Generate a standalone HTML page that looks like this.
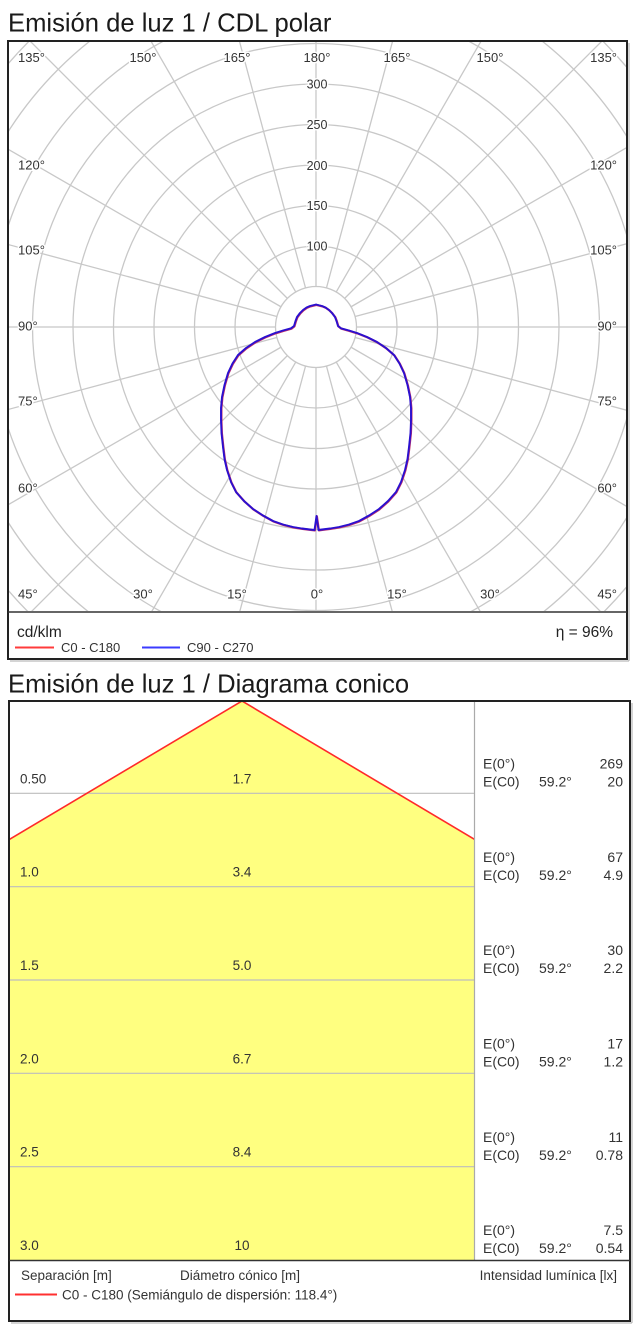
<!DOCTYPE html>
<html>
<head>
<meta charset="utf-8">
<style>
  html,body{margin:0;padding:0;background:#fff;}
  body{width:640px;height:1333px;overflow:hidden;}
  svg{display:block;}
  text{font-family:"Liberation Sans", Arial, sans-serif;}
</style>
</head>
<body>
<svg width="640" height="1333" viewBox="0 0 640 1333" xmlns="http://www.w3.org/2000/svg">
  <defs>
    <clipPath id="pc"><rect x="9" y="42" width="617" height="569"/></clipPath>
    <clipPath id="cc"><rect x="10" y="702" width="464" height="558"/></clipPath>
  </defs>

  <!-- ============ TITLE 1 ============ -->
  <text x="8" y="31.5" font-size="25.6" fill="#1a1a1a">Emisión de luz 1 / CDL polar</text>

  <!-- ============ POLAR GRID ============ -->
  <g clip-path="url(#pc)">
    <g transform="translate(316,327)" stroke="#c8c8c8" stroke-width="1.3" fill="none">
      <circle r="40.5"/><circle r="81"/><circle r="121.5"/><circle r="162"/>
      <circle r="202.5"/><circle r="243"/><circle r="283.5"/><circle r="324"/>
      <circle r="364.5"/><circle r="405"/><circle r="445.5"/>
      <line x1="0" y1="40.5" x2="0" y2="700" transform="rotate(0)"/>
      <line x1="0" y1="40.5" x2="0" y2="700" transform="rotate(15)"/>
      <line x1="0" y1="40.5" x2="0" y2="700" transform="rotate(30)"/>
      <line x1="0" y1="40.5" x2="0" y2="700" transform="rotate(45)"/>
      <line x1="0" y1="40.5" x2="0" y2="700" transform="rotate(60)"/>
      <line x1="0" y1="40.5" x2="0" y2="700" transform="rotate(75)"/>
      <line x1="0" y1="40.5" x2="0" y2="700" transform="rotate(90)"/>
      <line x1="0" y1="40.5" x2="0" y2="700" transform="rotate(105)"/>
      <line x1="0" y1="40.5" x2="0" y2="700" transform="rotate(120)"/>
      <line x1="0" y1="40.5" x2="0" y2="700" transform="rotate(135)"/>
      <line x1="0" y1="40.5" x2="0" y2="700" transform="rotate(150)"/>
      <line x1="0" y1="40.5" x2="0" y2="700" transform="rotate(165)"/>
      <line x1="0" y1="40.5" x2="0" y2="700" transform="rotate(180)"/>
      <line x1="0" y1="40.5" x2="0" y2="700" transform="rotate(195)"/>
      <line x1="0" y1="40.5" x2="0" y2="700" transform="rotate(210)"/>
      <line x1="0" y1="40.5" x2="0" y2="700" transform="rotate(225)"/>
      <line x1="0" y1="40.5" x2="0" y2="700" transform="rotate(240)"/>
      <line x1="0" y1="40.5" x2="0" y2="700" transform="rotate(255)"/>
      <line x1="0" y1="40.5" x2="0" y2="700" transform="rotate(270)"/>
      <line x1="0" y1="40.5" x2="0" y2="700" transform="rotate(285)"/>
      <line x1="0" y1="40.5" x2="0" y2="700" transform="rotate(300)"/>
      <line x1="0" y1="40.5" x2="0" y2="700" transform="rotate(315)"/>
      <line x1="0" y1="40.5" x2="0" y2="700" transform="rotate(330)"/>
      <line x1="0" y1="40.5" x2="0" y2="700" transform="rotate(345)"/>
    </g>

    <!-- ring labels -->
    <g font-size="12.5" fill="#333" text-anchor="middle" stroke="#fff" stroke-width="3" paint-order="stroke">
      <text x="317" y="250.5">100</text>
      <text x="317" y="210">150</text>
      <text x="317" y="170">200</text>
      <text x="317" y="129">250</text>
      <text x="317" y="88.5">300</text>
    </g>

    <!-- curves -->
    <path d="M318.5,530 L322,529.5 L330,528.5 L339,527 L349,524.5 L359,521 L369,515.5 L379,509 L388,501 L396,492 L401,482 L405,470 L407.5,459 L409,447 L410.5,433 L411,420 L411,408 L410,397 L407.5,385 L404,373 L399.5,363.5 L394,355 L386,348 L377,342 L367,337 L357,333 L349,330.5 L341,328.3 L338,326 L336.5,321 L335,317 L332,313 L329,310 L325.5,307.5 L322,306 L318,305 L316,304.5 L314,305 L310,306 L306.5,307.5 L303,310 L300,313 L297,317 L295.5,321 L294,326 L291,328.3 L283,330.5 L275,333 L265,337 L255,342 L246,348 L238,355 L232.5,363.5 L228,373 L224.5,385 L222,397 L221,408 L221,420 L221.5,433 L223,447 L224.5,459 L227,470 L231,482 L236,492 L244,501 L253,509 L263,515.5 L273,521 L283,524.5 L293,527 L302,528.5 L310,529.5 L314.5,530 L316.5,516 Z"
      fill="none" stroke="#c0306a" stroke-width="2.2" stroke-linejoin="round" transform="translate(0.4,0.4)"/>
    <path d="M318.5,530 L322,529.5 L330,528.5 L339,527 L349,524.5 L359,521 L369,515.5 L379,509 L388,501 L396,492 L401,482 L405,470 L407.5,459 L409,447 L410.5,433 L411,420 L411,408 L410,397 L407.5,385 L404,373 L399.5,363.5 L394,355 L386,348 L377,342 L367,337 L357,333 L349,330.5 L341,328.3 L338,326 L336.5,321 L335,317 L332,313 L329,310 L325.5,307.5 L322,306 L318,305 L316,304.5 L314,305 L310,306 L306.5,307.5 L303,310 L300,313 L297,317 L295.5,321 L294,326 L291,328.3 L283,330.5 L275,333 L265,337 L255,342 L246,348 L238,355 L232.5,363.5 L228,373 L224.5,385 L222,397 L221,408 L221,420 L221.5,433 L223,447 L224.5,459 L227,470 L231,482 L236,492 L244,501 L253,509 L263,515.5 L273,521 L283,524.5 L293,527 L302,528.5 L310,529.5 L314.5,530 L316.5,516 Z"
      fill="none" stroke="#2a10d0" stroke-width="1.9" stroke-linejoin="round"/>

    <!-- angle labels -->
    <g font-size="13" fill="#333" stroke="#fff" stroke-width="3" paint-order="stroke">
      <text x="18" y="62">135°</text>
      <g text-anchor="middle">
        <text x="143" y="62">150°</text>
        <text x="237" y="62">165°</text>
        <text x="317" y="62">180°</text>
        <text x="397" y="62">165°</text>
        <text x="490" y="62">150°</text>
        <text x="143" y="598.5">30°</text>
        <text x="237" y="598.5">15°</text>
        <text x="317" y="598.5">0°</text>
        <text x="397" y="598.5">15°</text>
        <text x="490" y="598.5">30°</text>
      </g>
      <text x="617" y="62" text-anchor="end">135°</text>
      <text x="18" y="169.5">120°</text>
      <text x="18" y="254.5">105°</text>
      <text x="18" y="330.5">90°</text>
      <text x="18" y="405.5">75°</text>
      <text x="18" y="492.5">60°</text>
      <text x="18" y="598.5">45°</text>
      <g text-anchor="end">
        <text x="617" y="169.5">120°</text>
        <text x="617" y="254.5">105°</text>
        <text x="617" y="330.5">90°</text>
        <text x="617" y="405.5">75°</text>
        <text x="617" y="492.5">60°</text>
        <text x="617" y="598.5">45°</text>
      </g>
    </g>
  </g>

  <!-- polar box -->
  <line x1="629" y1="43" x2="629" y2="661" stroke="#aaa" stroke-width="1"/>
  <line x1="10" y1="661" x2="629" y2="661" stroke="#aaa" stroke-width="1"/>
  <rect x="8" y="41" width="619" height="618" fill="none" stroke="#222" stroke-width="2"/>
  <line x1="8" y1="612" x2="627" y2="612" stroke="#333" stroke-width="1.6"/>

  <!-- polar legend -->
  <text x="17" y="637" font-size="15.5" fill="#222">cd/klm</text>
  <text x="613" y="637" font-size="15.5" fill="#222" text-anchor="end">η = 96%</text>
  <line x1="15" y1="647.5" x2="54" y2="647.5" stroke="#ff3b3b" stroke-width="2"/>
  <text x="61" y="652" font-size="13" fill="#333">C0 - C180</text>
  <line x1="142" y1="647.5" x2="180" y2="647.5" stroke="#3b3bff" stroke-width="2"/>
  <text x="187" y="652" font-size="13" fill="#333">C90 - C270</text>

  <!-- ============ TITLE 2 ============ -->
  <text x="8" y="692.5" font-size="25.6" fill="#1a1a1a">Emisión de luz 1 / Diagrama conico</text>

  <!-- ============ CONE DIAGRAM ============ -->
  <g clip-path="url(#cc)">
    <polygon points="242,701 474,839 474,1260 10,1260 10,839" fill="#ffff80"/>
    <g stroke="#bdbdbd" stroke-width="1.2">
      <line x1="10" y1="793.3" x2="474" y2="793.3"/>
      <line x1="10" y1="886.7" x2="474" y2="886.7"/>
      <line x1="10" y1="980" x2="474" y2="980"/>
      <line x1="10" y1="1073.3" x2="474" y2="1073.3"/>
      <line x1="10" y1="1166.7" x2="474" y2="1166.7"/>
    </g>
    <polyline points="8,840.2 242,701 476,840.2" fill="none" stroke="#ff2a2a" stroke-width="1.6"/>
  </g>
  <line x1="474.5" y1="702" x2="474.5" y2="1260" stroke="#aaa" stroke-width="1.2"/>

  <!-- row labels -->
  <g font-size="13.5" fill="#333">
    <text x="20" y="783.3">0.50</text>
    <text x="20" y="876.7">1.0</text>
    <text x="20" y="970">1.5</text>
    <text x="20" y="1063.3">2.0</text>
    <text x="20" y="1156.7">2.5</text>
    <text x="20" y="1250">3.0</text>
    <g text-anchor="middle">
      <text x="242" y="783.3">1.7</text>
      <text x="242" y="876.7">3.4</text>
      <text x="242" y="970">5.0</text>
      <text x="242" y="1063.3">6.7</text>
      <text x="242" y="1156.7">8.4</text>
      <text x="242" y="1250">10</text>
    </g>
  </g>

  <!-- right column -->
  <g font-size="14" fill="#333">
    <text x="483" y="768.5">E(0°)</text>
    <text x="483" y="786.5">E(C0)</text>
    <text x="539" y="786.5">59.2°</text>
    <text x="623" y="768.5" text-anchor="end">269</text>
    <text x="623" y="786.5" text-anchor="end">20</text>

    <text x="483" y="861.9">E(0°)</text>
    <text x="483" y="879.9">E(C0)</text>
    <text x="539" y="879.9">59.2°</text>
    <text x="623" y="861.9" text-anchor="end">67</text>
    <text x="623" y="879.9" text-anchor="end">4.9</text>

    <text x="483" y="955.2">E(0°)</text>
    <text x="483" y="973.2">E(C0)</text>
    <text x="539" y="973.2">59.2°</text>
    <text x="623" y="955.2" text-anchor="end">30</text>
    <text x="623" y="973.2" text-anchor="end">2.2</text>

    <text x="483" y="1048.5">E(0°)</text>
    <text x="483" y="1066.5">E(C0)</text>
    <text x="539" y="1066.5">59.2°</text>
    <text x="623" y="1048.5" text-anchor="end">17</text>
    <text x="623" y="1066.5" text-anchor="end">1.2</text>

    <text x="483" y="1141.9">E(0°)</text>
    <text x="483" y="1159.9">E(C0)</text>
    <text x="539" y="1159.9">59.2°</text>
    <text x="623" y="1141.9" text-anchor="end">11</text>
    <text x="623" y="1159.9" text-anchor="end">0.78</text>

    <text x="483" y="1235.2">E(0°)</text>
    <text x="483" y="1253.2">E(C0)</text>
    <text x="539" y="1253.2">59.2°</text>
    <text x="623" y="1235.2" text-anchor="end">7.5</text>
    <text x="623" y="1253.2" text-anchor="end">0.54</text>
  </g>

  <!-- cone box -->
  <line x1="632" y1="703" x2="632" y2="1323" stroke="#aaa" stroke-width="1"/>
  <line x1="11" y1="1323" x2="632" y2="1323" stroke="#aaa" stroke-width="1"/>
  <rect x="9" y="701" width="621" height="620" fill="none" stroke="#222" stroke-width="2"/>
  <line x1="9" y1="1260.5" x2="630" y2="1260.5" stroke="#333" stroke-width="1.6"/>

  <!-- cone legend -->
  <g font-size="13.5" fill="#333">
    <text x="21" y="1280">Separación [m]</text>
    <text x="180" y="1280">Diámetro cónico [m]</text>
    <text x="617" y="1280" text-anchor="end">Intensidad lumínica [lx]</text>
    <text x="62" y="1299.5">C0 - C180 (Semiángulo de dispersión: 118.4°)</text>
  </g>
  <line x1="15" y1="1294.5" x2="57" y2="1294.5" stroke="#ff3030" stroke-width="2"/>
</svg>
</body>
</html>
